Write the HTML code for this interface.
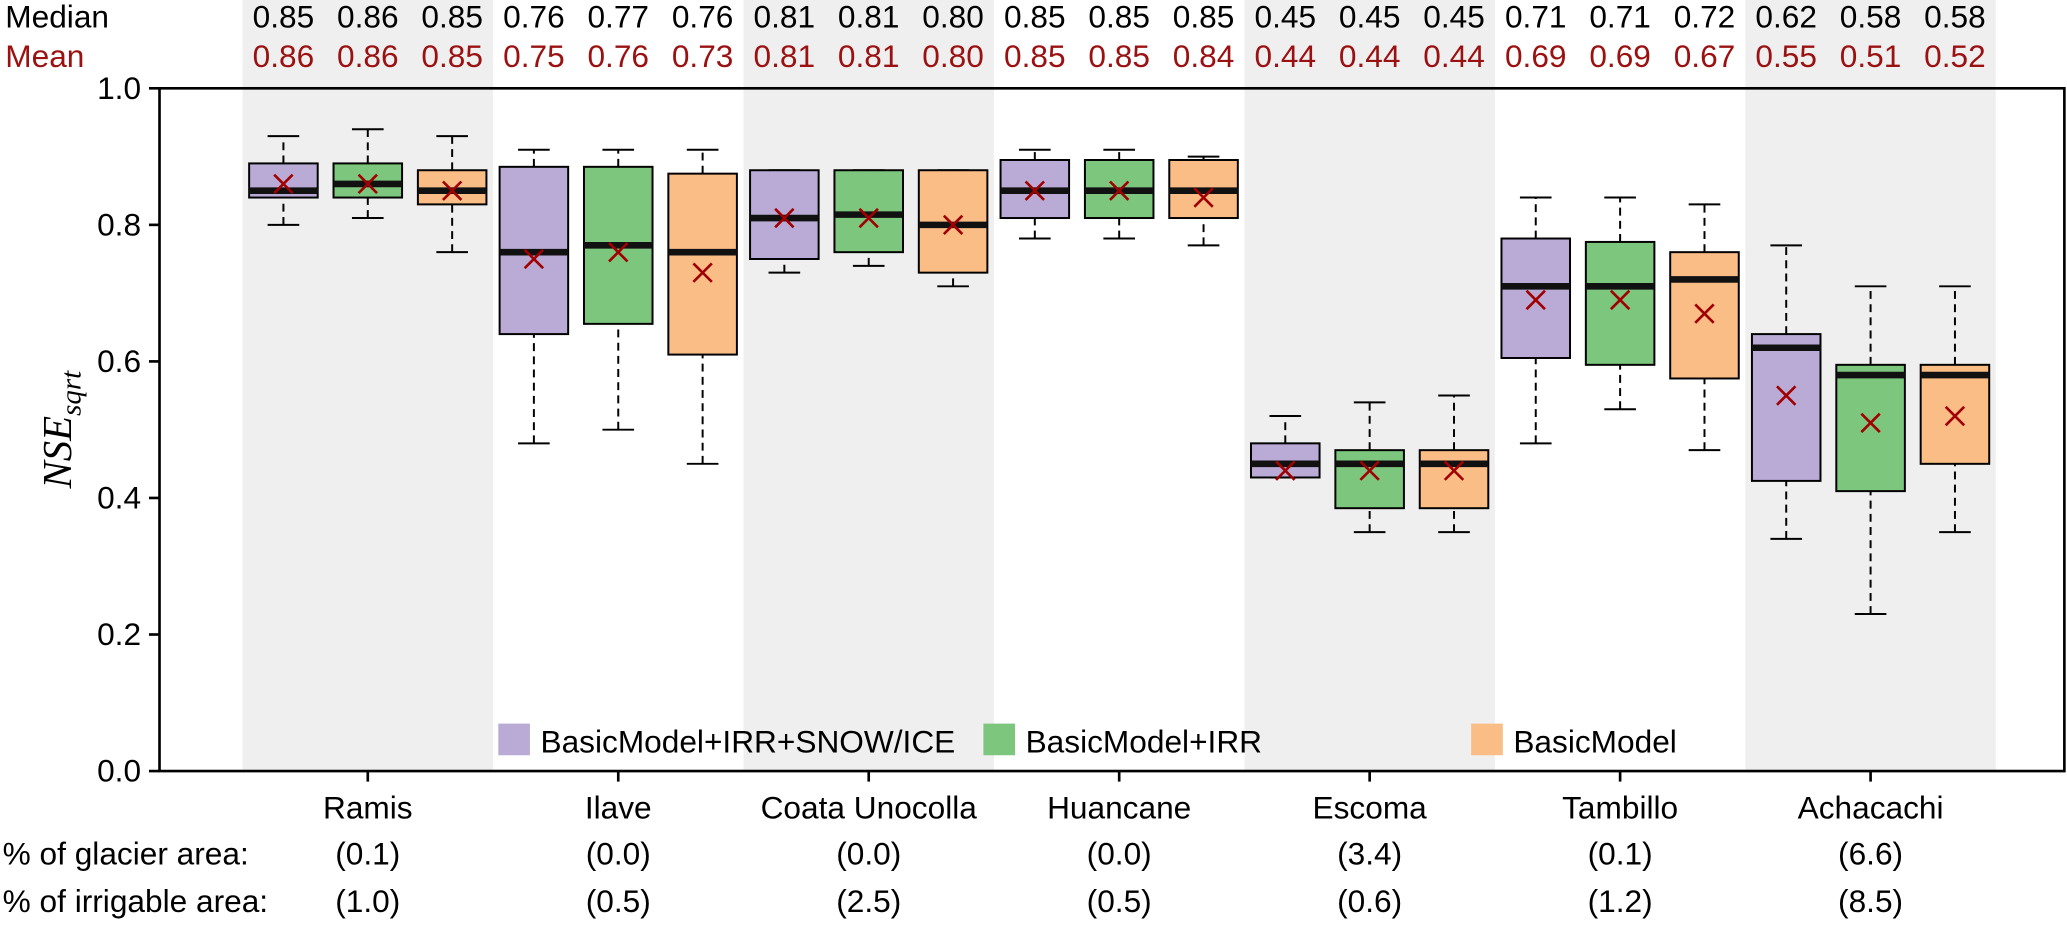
<!DOCTYPE html>
<html><head><meta charset="utf-8"><style>
body{margin:0;background:#fff;}
svg text{font-family:"Liberation Sans",Arial,sans-serif;}
</style></head><body>
<svg id="chart" width="2067" height="920" viewBox="0 0 1568 698" preserveAspectRatio="none" xmlns="http://www.w3.org/2000/svg"></svg>
<script>
const catchments = ["Ramis","Ilave","Coata Unocolla","Huancane","Escoma","Tambillo","Achacachi"];
const glacierArea = ["(0.1)","(0.0)","(0.0)","(0.0)","(3.4)","(0.1)","(6.6)"];
const irrigableArea = ["(1.0)","(0.5)","(2.5)","(0.5)","(0.6)","(1.2)","(8.5)"];
const seriesNames = ["BasicModel+IRR+SNOW/ICE","BasicModel+IRR","BasicModel"];
const seriesColors = ["#b9abd6","#7dc67d","#fbbd86"];
const whiskerLow = [[.80,.48,.73,.78,.43,.48,.34],[.81,.50,.74,.78,.35,.53,.23],[.76,.45,.71,.77,.35,.47,.35]];
const q1 = [[.84,.64,.75,.81,.43,.605,.425],[.84,.655,.76,.81,.385,.595,.41],[.83,.61,.73,.81,.385,.575,.45]];
const medians = [[.85,.76,.81,.85,.45,.71,.62],[.86,.77,.815,.85,.45,.71,.58],[.85,.76,.80,.85,.45,.72,.58]];
const q3 = [[.89,.885,.88,.895,.48,.78,.64],[.89,.885,.88,.895,.47,.775,.595],[.88,.875,.88,.895,.47,.76,.595]];
const whiskerHigh = [[.93,.91,.88,.91,.52,.84,.77],[.94,.91,.88,.91,.54,.84,.71],[.93,.91,.88,.90,.55,.83,.71]];
const means = [[.86,.75,.81,.85,.44,.69,.55],[.86,.76,.81,.85,.44,.69,.51],[.85,.73,.80,.84,.44,.67,.52]];
const medianLabels = [["0.85","0.76","0.81","0.85","0.45","0.71","0.62"],["0.86","0.77","0.81","0.85","0.45","0.71","0.58"],["0.85","0.76","0.80","0.85","0.45","0.72","0.58"]];
const meanLabels = [["0.86","0.75","0.81","0.85","0.44","0.69","0.55"],["0.86","0.76","0.81","0.85","0.44","0.69","0.51"],["0.85","0.73","0.80","0.84","0.44","0.67","0.52"]];
const yTicks = [0,0.2,0.4,0.6,0.8,1.0];
const yTickLabels = ["0.0","0.2","0.4","0.6","0.8","1.0"];

const svg = document.getElementById('chart');
const NS = "http://www.w3.org/2000/svg";
const L=121, R=1566, T=67, B=585, G0=184, GW=190, OFF=64, BW=52, FS=24;
function y(v){return B-(B-T)*v;}
function gx(i){return G0+GW*i+GW/2;}
function bx(i,s){return gx(i)+(s-1)*OFF;}
function mk(tag,attrs,parent){const e=document.createElementNS(NS,tag);for(const k in attrs)e.setAttribute(k,attrs[k]);(parent||svg).appendChild(e);return e;}
function txt(x,yy,s,attrs){const e=mk('text',Object.assign({x:x,y:yy,'font-size':FS},attrs||{}));e.textContent=s;return e;}

for(let i=0;i<catchments.length;i+=2){
  const r=mk('rect',{x:G0+GW*i,y:0,width:GW,height:B,fill:'#efefef'});
  
  
}
const legX=[378,746,1116];
for(let s=0;s<3;s++){
  const g=mk('g',{});
  
  
  mk('rect',{x:legX[s],y:549,width:24,height:24,fill:seriesColors[s]},g);
  const t=txt(legX[s]+32,571,seriesNames[s],{});g.appendChild(t);
}
for(let s=0;s<3;s++){
  for(let i=0;i<catchments.length;i++){
    const g=mk('g',{});
    
    
    const cx=bx(i,s);
    mk('line',{x1:cx,x2:cx,y1:y(whiskerLow[s][i]),y2:y(q1[s][i]),stroke:'#000','stroke-width':1.5,'stroke-dasharray':'6,4'},g);
    mk('line',{x1:cx,x2:cx,y1:y(q3[s][i]),y2:y(whiskerHigh[s][i]),stroke:'#000','stroke-width':1.5,'stroke-dasharray':'6,4'},g);
    mk('line',{x1:cx-12,x2:cx+12,y1:y(whiskerLow[s][i]),y2:y(whiskerLow[s][i]),stroke:'#000','stroke-width':1.5},g);
    mk('line',{x1:cx-12,x2:cx+12,y1:y(whiskerHigh[s][i]),y2:y(whiskerHigh[s][i]),stroke:'#000','stroke-width':1.5},g);
    mk('rect',{x:cx-BW/2,y:y(q3[s][i]),width:BW,height:y(q1[s][i])-y(q3[s][i]),fill:seriesColors[s],stroke:'#000','stroke-width':1.5},g);
    mk('line',{x1:cx-BW/2,x2:cx+BW/2,y1:y(medians[s][i]),y2:y(medians[s][i]),stroke:'#111','stroke-width':5},g);
    const my=y(means[s][i]);
    mk('path',{d:`M${cx-7},${my-7}L${cx+7},${my+7}M${cx-7},${my+7}L${cx+7},${my-7}`,stroke:'#a00000','stroke-width':2},g);
    const m1=txt(cx,21,medianLabels[s][i],{'text-anchor':'middle',fill:'#000'});
    
    const m2=txt(cx,51,meanLabels[s][i],{'text-anchor':'middle',fill:'#9b1010'});
    
  }
}
const fr=mk('rect',{x:L,y:T,width:R-L,height:B-T,fill:'none',stroke:'#000','stroke-width':2});

yTicks.forEach((v,k)=>{
  mk('line',{x1:L-8,x2:L,y1:y(v),y2:y(v),stroke:'#000','stroke-width':2});
  const t=txt(L-14,y(v)+8,yTickLabels[k],{'text-anchor':'end'});
  
});
catchments.forEach((c,i)=>{
  mk('line',{x1:gx(i),x2:gx(i),y1:B,y2:B+8,stroke:'#000','stroke-width':2});
  const t=txt(gx(i),621,c,{'text-anchor':'middle'});
  
  const a=txt(gx(i),656,glacierArea[i],{'text-anchor':'middle'});
  
  const b=txt(gx(i),692,irrigableArea[i],{'text-anchor':'middle'});
  
});
let t;
t=txt(4,21,"Median",{});
t=txt(4,51,"Mean",{fill:'#9b1010'});
t=txt(2,656,"% of glacier area:",{});
t=txt(2,692,"% of irrigable area:",{});
const yt=mk('text',{x:0,y:0,transform:'translate(54,326) rotate(-90)','text-anchor':'middle','font-size':31,'font-style':'italic',style:'font-family:"Liberation Serif",serif'});

yt.textContent='NSE';
const sub=mk('tspan',{'font-size':22,dy:7},yt);sub.textContent='sqrt';
</script>
</body></html>
